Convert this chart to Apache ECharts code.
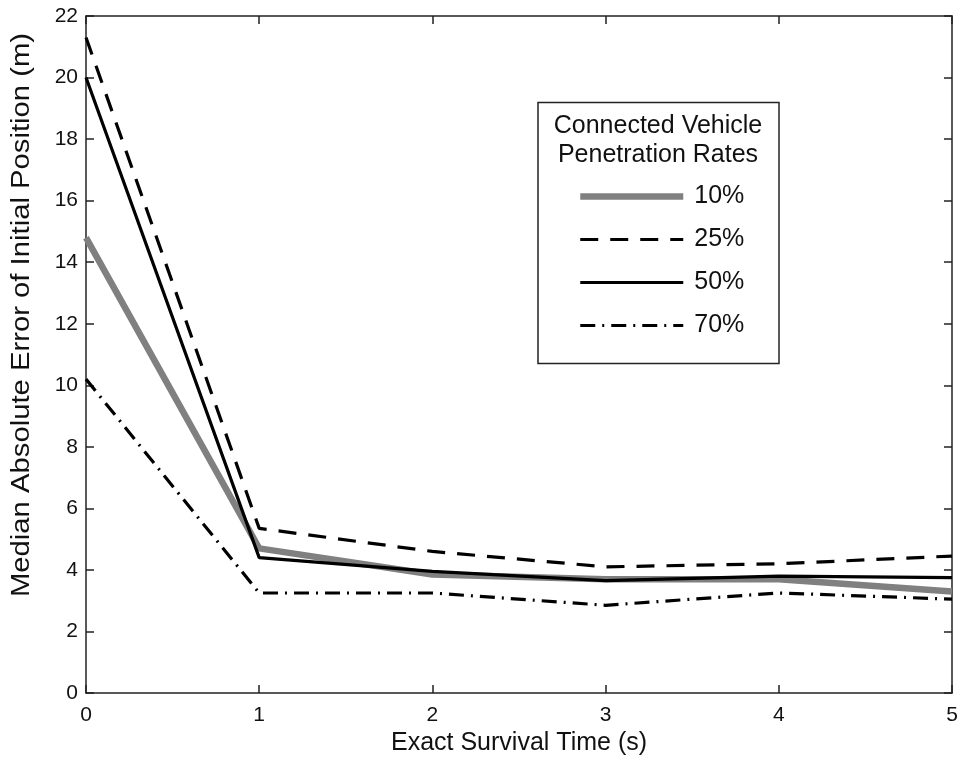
<!DOCTYPE html>
<html><head><meta charset="utf-8">
<script src="https://cdn.jsdelivr.net/npm/echarts@6/dist/echarts.min.js"></script>
<style>html,body{margin:0;padding:0;background:#fff}#c{width:964px;height:761px}</style>
</head><body><div id="c"></div>
<script>
const times = [0, 1, 2, 3, 4, 5];
const rate10 = [14.8, 4.7, 3.85, 3.7, 3.7, 3.3];
const rate25 = [21.3, 5.35, 4.6, 4.1, 4.2, 4.45];
const rate50 = [20.0, 4.4, 3.95, 3.65, 3.8, 3.75];
const rate70 = [10.2, 3.25, 3.25, 2.85, 3.25, 3.05];
const seriesNames = ['10%', '25%', '50%', '70%'];
const legendTitle = ['Connected Vehicle', 'Penetration Rates'];
const xTitle = 'Exact Survival Time (s)';
const yTitle = 'Median Absolute Error of Initial Position (m)';

const font = 'Liberation Sans, Arial, sans-serif';
const pair = a => times.map((t, i) => [t, a[i]]);
const chart = echarts.init(document.getElementById('c'));
const axisCommon = () => ({
  axisLine: {show: true, onZero: false, lineStyle: {color: '#222', width: 1.5}},
  axisTick: {show: true, inside: true, length: 8, lineStyle: {color: '#222', width: 1.5}},
  splitLine: {show: false}
});
const styles = [
  {color: '#808080', width: 6.5, type: 'solid'},
  {color: '#000', width: 3.2, type: [18, 12]},
  {color: '#000', width: 3.2, type: 'solid'},
  {color: '#000', width: 3.2, type: [15, 7, 2, 7]}
];
const datasets = [rate10, rate25, rate50, rate70];
chart.setOption({
  animation: false,
  grid: {left: 86, right: 12, top: 16, bottom: 67, show: false},
  xAxis: [
    Object.assign({type: 'value', min: 0, max: 5, interval: 1, position: 'bottom',
      name: xTitle, nameLocation: 'middle', nameGap: 38,
      nameTextStyle: {fontFamily: font, fontSize: 25, color: '#111'},
      axisLabel: {fontFamily: font, fontSize: 21, color: '#111', margin: 12}}, axisCommon()),
    Object.assign({type: 'value', min: 0, max: 5, interval: 1, position: 'top',
      axisLabel: {show: false}}, axisCommon())
  ],
  yAxis: [
    Object.assign({type: 'value', min: 0, max: 22, interval: 2, position: 'left',
      axisLabel: {fontFamily: font, fontSize: 21, color: '#111', margin: 8}}, axisCommon()),
    Object.assign({type: 'value', min: 0, max: 22, interval: 2, position: 'right',
      axisLabel: {show: false}}, axisCommon())
  ],
  legend: {
    data: seriesNames.map((n, i) => ({name: n, lineStyle: {width: styles[i].width, type: styles[i].type, color: styles[i].color}})),
    orient: 'vertical', left: 577, top: 184, padding: 0,
    itemWidth: 103, itemHeight: 24, itemGap: 18,
    itemStyle: {opacity: 0},
    textStyle: {fontFamily: font, fontSize: 25, color: '#111', padding: [0, 0, 0, 6]}
  },
  graphic: [
    {type: 'rect', shape: {x: 538, y: 102.5, width: 241, height: 261},
     style: {fill: 'none', stroke: '#222', lineWidth: 1.5}, z: 0},
    {type: 'text', x: 658, y: 112,
     style: {text: legendTitle.join('\n'), font: '25px ' + font, fill: '#111',
       align: 'center', lineHeight: 29}},
    {type: 'text', x: 22, y: 315, rotation: Math.PI / 2, scaleX: 1.17,
     style: {text: yTitle, font: '25px ' + font, fill: '#111',
       align: 'center', verticalAlign: 'middle'}}
  ],
  series: datasets.map((d, i) => ({
    name: seriesNames[i], type: 'line', data: pair(d), symbol: 'none',
    lineStyle: styles[i], itemStyle: {color: styles[i].color}, z: i === 2 ? 3 : (i === 0 ? 1 : 2)
  }))
});
</script></body></html>
